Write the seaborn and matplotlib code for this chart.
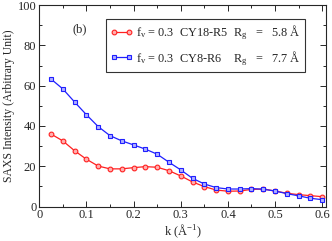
import pandas as pd
import matplotlib
matplotlib.use("Agg")
import matplotlib.pyplot as plt
import seaborn as sns
from matplotlib.ticker import MultipleLocator

# data
k = [0.025, 0.05, 0.075, 0.1, 0.125, 0.15, 0.175, 0.2, 0.225, 0.25,
     0.275, 0.3, 0.325, 0.35, 0.375, 0.4, 0.425, 0.45, 0.475, 0.5,
     0.525, 0.55, 0.575, 0.6]
cy18_r5 = [36.0, 32.6, 27.7, 23.5, 20.1, 18.7, 18.7, 19.3, 19.8, 19.5,
           17.8, 15.2, 12.2, 9.9, 8.2, 7.6, 7.7, 8.5, 8.7, 7.7,
           6.6, 5.9, 5.4, 4.9]
cy8_r6 = [63.3, 58.4, 51.9, 45.6, 39.7, 35.2, 32.6, 30.6, 28.5, 26.0,
          22.0, 18.2, 14.0, 11.2, 9.4, 8.7, 8.7, 8.9, 8.6, 7.7,
          6.4, 5.3, 4.1, 3.4]
label_red = r"$\mathregular{f_v}$ = 0.3  CY18-R5  $\mathregular{R_g}$   =   5.8 Å"
label_blue = r"$\mathregular{f_v}$ = 0.3  CY8-R6    $\mathregular{R_g}$   =   7.7 Å"

df = pd.DataFrame({'k': k, 'red': cy18_r5, 'blue': cy8_r6})

sns.set_style("ticks")
plt.rcParams['font.family'] = ['Liberation Serif', 'DejaVu Serif']
plt.rcParams['font.size'] = 8

fig = plt.figure(figsize=(3.32, 2.41), dpi=100)
ax = fig.add_axes([0.118, 0.143, 0.864, 0.836])

sns.lineplot(data=df, x='k', y='red', ax=ax, color='#ff2020', lw=0.9,
             marker='o', markersize=3.4, markerfacecolor='#ffb0b0',
             markeredgecolor='#ff2020', markeredgewidth=0.8, label=label_red)
sns.lineplot(data=df, x='k', y='blue', ax=ax, color='#2020ff', lw=0.9,
             marker='s', markersize=3.2, markerfacecolor='#b0b0ff',
             markeredgecolor='#2020ff', markeredgewidth=0.8, label=label_blue)

ax.set_xlim(0, 0.608)
ax.set_ylim(0, 100)
ax.xaxis.set_major_locator(MultipleLocator(0.1))
ax.xaxis.set_minor_locator(MultipleLocator(0.05))
ax.yaxis.set_major_locator(MultipleLocator(20))
ax.yaxis.set_minor_locator(MultipleLocator(10))
ax.set_xticks([0, 0.1, 0.2, 0.3, 0.4, 0.5, 0.6])
ax.set_xticklabels(['0', '0.1', '0.2', '0.3', '0.4', '0.5', '0.6'])
ax.tick_params(which='both', direction='in', top=True, right=True,
               labelsize=9, pad=2, width=0.7)
ax.tick_params(which='major', length=4)
ax.tick_params(which='minor', length=2)
for s in ax.spines.values():
    s.set_linewidth(0.8)

ax.set_xlabel(r"k (Å$^{\mathregular{-1}}$)", fontsize=9, labelpad=1)
ax.set_ylabel("SAXS Intensity (Arbitrary Unit)", fontsize=8.5, labelpad=2)
ax.text(0.086, 88, "(b)", fontsize=9, ha='center', va='center')

leg = ax.legend(loc='upper left', bbox_to_anchor=(0.233, 0.93), fontsize=8.8,
                frameon=True, fancybox=False, edgecolor='black',
                handlelength=1.8, numpoints=2, borderpad=0.35,
                borderaxespad=0, labelspacing=0.55, handletextpad=0.3)
leg.get_frame().set_linewidth(0.8)

fig.savefig("out.png", dpi=100)
